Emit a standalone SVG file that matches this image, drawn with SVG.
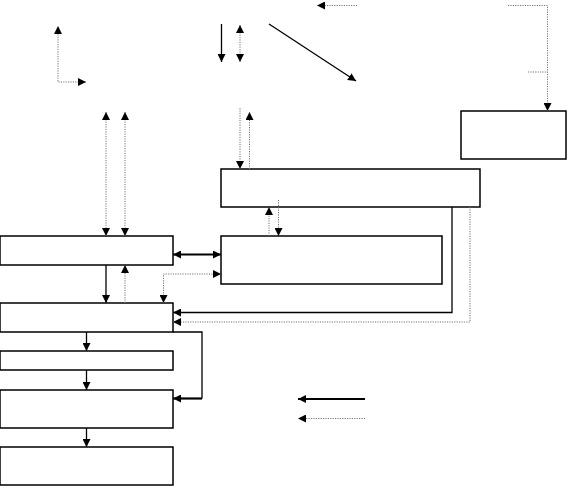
<svg xmlns="http://www.w3.org/2000/svg" width="567" height="486" viewBox="0 0 567 486">
<style>
.box{fill:#fff;stroke:#000;stroke-width:1.5}
.s{fill:none;stroke:#000;stroke-width:1.3}
.t{fill:none;stroke:#000;stroke-width:2.2}
.d{fill:none;stroke:#777;stroke-width:1;stroke-dasharray:1.2,1.2}
</style>
<defs>
<marker id="a" viewBox="0 0 8 8" refX="8" refY="4" markerWidth="8" markerHeight="8" markerUnits="userSpaceOnUse" orient="auto-start-reverse"><path d="M0,0 L8,4 L0,8 z" fill="#000"/></marker>
</defs>
<rect width="567" height="486" fill="#fff"/>
<g id="nodeA"><rect class="box" x="461" y="111" width="105" height="48"/></g>
<g id="nodeB"><rect class="box" x="221" y="169" width="259" height="38"/></g>
<g id="nodeC"><rect class="box" x="221" y="236" width="221" height="48"/></g>
<g id="nodeD"><rect class="box" x="0" y="236" width="173" height="29"/></g>
<g id="nodeE"><rect class="box" x="0" y="303" width="173" height="29"/></g>
<g id="nodeF"><rect class="box" x="0" y="351" width="173" height="19"/></g>
<g id="nodeG"><rect class="box" x="0" y="390" width="173" height="38"/></g>
<g id="nodeH"><rect class="box" x="0" y="447" width="173" height="38"/></g>
<g id="connectors">
<path class="d" d="M86,82 H58 V26" marker-start="url(#a)" marker-end="url(#a)"/>
<path class="s" d="M221.5,24 V62" marker-end="url(#a)"/>
<path class="d" d="M240,25 V62" marker-start="url(#a)" marker-end="url(#a)"/>
<path class="s" d="M269,24 L356,81" marker-end="url(#a)"/>
<path class="d" d="M357,5.5 H317" marker-end="url(#a)"/>
<path class="d" d="M508,5.5 H547.5 V111" marker-end="url(#a)"/>
<path class="d" d="M528,72 H547.5"/>
<path class="d" d="M106,112 V236" marker-start="url(#a)" marker-end="url(#a)"/>
<path class="d" d="M125,112 V236" marker-start="url(#a)" marker-end="url(#a)"/>
<path class="d" d="M240,108 V169" marker-end="url(#a)"/>
<path class="d" d="M249.5,169 V112" marker-end="url(#a)"/>
<path class="d" d="M269,236 V207" marker-end="url(#a)"/>
<path class="d" d="M278.5,200 V236" marker-end="url(#a)"/>
<path class="t" d="M173,254.5 H221" marker-start="url(#a)" marker-end="url(#a)"/>
<path class="d" d="M163.5,303 V274 H221" marker-start="url(#a)" marker-end="url(#a)"/>
<path class="s" d="M106,265 V303" marker-end="url(#a)"/>
<path class="d" d="M125,303 V265" marker-end="url(#a)"/>
<path class="s" d="M452,207 V312.5 H173" marker-end="url(#a)"/>
<path class="d" d="M470,207 V322 H173" marker-end="url(#a)"/>
<path class="s" d="M173,332 H202 V398.5"/>
<path class="t" d="M202,398.5 H173" marker-end="url(#a)"/>
<path class="s" d="M86.5,332 V351" marker-end="url(#a)"/>
<path class="s" d="M86.5,370 V390" marker-end="url(#a)"/>
<path class="s" d="M86.5,428 V447" marker-end="url(#a)"/>
<path class="t" d="M365,399 H298" marker-end="url(#a)"/>
<path class="d" d="M365,418.5 H298" marker-end="url(#a)"/>
</g>
</svg>
